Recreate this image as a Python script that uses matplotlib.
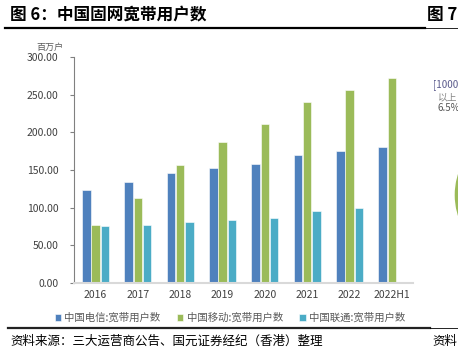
import matplotlib
matplotlib.use("Agg")
import matplotlib.pyplot as plt
import numpy as np
from matplotlib.lines import Line2D
from matplotlib.patches import Circle

plt.rcParams['font.family'] = ['Noto Sans CJK SC', 'DejaVu Sans']

years = ['2016', '2017', '2018', '2019', '2020', '2021', '2022', '2022H1']
telecom = [123.1, 133.5, 145.8, 153.1, 158.5, 170.0, 175.3, 181.0]
mobile = [77.6, 113.0, 156.7, 187.0, 210.5, 240.0, 255.6, 272.0]
unicom = [75.6, 76.5, 81.0, 83.5, 86.1, 95.0, 99.5, np.nan]
names = ['中国电信:宽带用户数', '中国移动:宽带用户数', '中国联通:宽带用户数']
colors = ['#4F81BD', '#9BBB59', '#4BACC6']

fig = plt.figure(figsize=(4.58, 3.55), dpi=100)
ax = fig.add_axes([74 / 458, 1 - 283 / 355, 339 / 458, 226 / 355])

x = np.arange(len(years))
step = 0.218
for i, (vals, c) in enumerate(zip([telecom, mobile, unicom], colors)):
    ax.bar(x + (i - 1) * step, vals, width=0.2, color=c, edgecolor='white',
           linewidth=0.4, label=names[i])

ax.set_xlim(-0.51, 7.5)
ax.set_ylim(0, 300)
ax.set_yticks(np.arange(0, 301, 50))
ax.set_yticklabels(['%.2f' % v for v in np.arange(0, 301, 50)])
ax.set_xticks(x)
ax.set_xticklabels(years)
ax.tick_params(axis='y', length=3, width=0.8, color='#808080', labelsize=7.5,
               labelcolor='#404040', pad=8)
ax.tick_params(axis='x', length=0, labelsize=7.5, labelcolor='#404040', pad=5)
for s in ['top', 'right']:
    ax.spines[s].set_visible(False)
ax.spines['left'].set_color('#808080')
ax.spines['left'].set_linewidth(0.8)
ax.spines['bottom'].set_color('#D9D9D9')
ax.spines['bottom'].set_linewidth(1.5)

fig.text(50 / 458, 1 - 47 / 355, '百万户', fontsize=6.5, color='#595959',
         ha='center', va='center')

ax.legend(loc='upper center', bbox_to_anchor=(0.46, -0.09), ncol=3,
          frameon=False, fontsize=7.5, handlelength=0.6, handleheight=0.6,
          handletextpad=0.3, columnspacing=1.6, labelcolor='#595959')

# title and header lines
fig.text(10 / 458, 1 - 15 / 355, '图 6：中国固网宽带用户数', fontsize=12,
         fontweight='bold', ha='left', va='center')
fig.text(427 / 458, 1 - 15 / 355, '图 7', fontsize=12, fontweight='bold',
         ha='left', va='center')
fig.add_artist(Line2D([5 / 458, 425 / 458], [1 - 28 / 355] * 2, color='black', lw=1.6))
fig.add_artist(Line2D([425 / 458, 1], [1 - 28 / 355] * 2, color='black', lw=0.6))

# source footer
fig.add_artist(Line2D([8 / 458, 430 / 458], [1 - 328 / 355] * 2, color='#222222', lw=1.6))
fig.add_artist(Line2D([430 / 458, 1], [1 - 328 / 355] * 2, color='black', lw=0.6))
fig.text(10 / 458, 1 - 341 / 355, '资料来源：三大运营商公告、国元证券经纪（香港）整理',
         fontsize=9, style='italic', ha='left', va='center')
fig.text(432 / 458, 1 - 341 / 355, '资料', fontsize=9, style='italic',
         ha='left', va='center')

# clipped neighbour chart on the right
fig.add_artist(Circle((569 / 458, 1 - 195 / 355), 115 / 458,
                      transform=fig.transFigure, facecolor='#9BBB59',
                      edgecolor='white', lw=1, clip_on=True))
fig.text(433 / 458, 1 - 85 / 355, '[1000', fontsize=7, color='#5A5A8C',
         ha='left', va='center')
fig.text(438 / 458, 1 - 97 / 355, '以上', fontsize=7, color='#888888',
         ha='left', va='center')
fig.text(437 / 458, 1 - 108 / 355, '6.5%', fontsize=7, color='#555555',
         ha='left', va='center')

fig.savefig('out.png', dpi=100)
